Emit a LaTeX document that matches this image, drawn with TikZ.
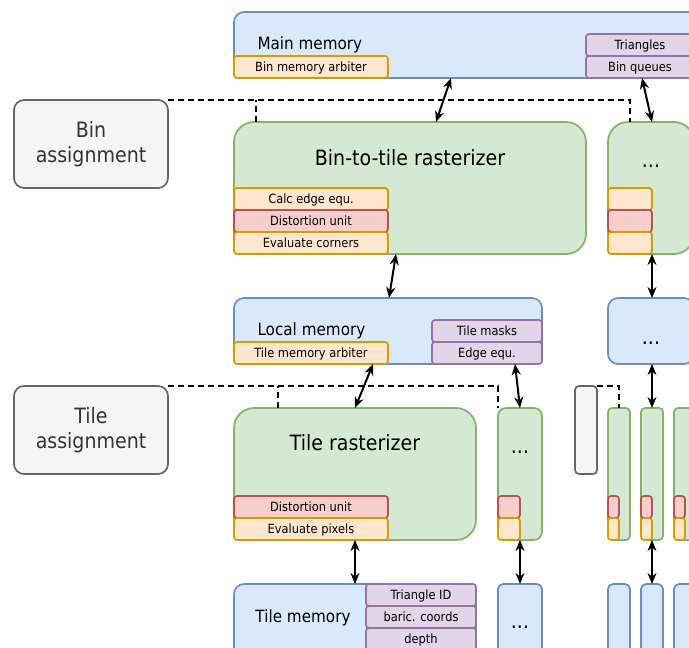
\documentclass[tikz,border=0pt]{standalone}
\usepackage{fontspec}
\setmainfont{DejaVu Sans}[FakeStretch=0.9]
\usetikzlibrary{arrows.meta}

\definecolor{memfill}{HTML}{DAE8FC}\definecolor{memline}{HTML}{6C8EBF}
\definecolor{rastfill}{HTML}{D5E8D4}\definecolor{rastline}{HTML}{82B366}
\definecolor{unitfill}{HTML}{FFE6CC}\definecolor{unitline}{HTML}{D79B00}
\definecolor{distfill}{HTML}{F8CECC}\definecolor{distline}{HTML}{B85450}
\definecolor{buffill}{HTML}{E1D5E7}\definecolor{bufline}{HTML}{9673A6}
\definecolor{ctlfill}{HTML}{F5F5F5}\definecolor{ctlline}{HTML}{666666}
\definecolor{ctltext}{HTML}{333333}

% block from corner (x1,y1) to corner (x2,y2), y growing downwards
\newcommand\blk[7]{\node[#2, minimum width={#5-#3}, minimum height={#6-#4}]
  (#1) at ({(#3+#5)/2},{(#4+#6)/2}) {#7};}

\tikzset{
  box/.style={draw, line width=1.7pt, inner sep=0pt, outer sep=0pt},
  % capital letters are centred on the node
  bigtxt/.style={font=\fontsize{21.1}{26}\selectfont, text height=15.4pt, text depth=0pt},
  midtxt/.style={font=\fontsize{16.9}{20}\selectfont, text height=12.3pt, text depth=0pt},
  smalltxt/.style={font=\fontsize{12.7}{14}\selectfont, text height=9.3pt, text depth=0pt},
  dots/.style={font=\fontsize{21.1}{26}\selectfont, anchor=base, inner sep=0pt},
  mem/.style={box, fill=memfill, draw=memline, rounded corners=10pt},
  memthin/.style={box, fill=memfill, draw=memline, rounded corners=5pt},
  rast/.style={box, fill=rastfill, draw=rastline, rounded corners=20pt},
  rastmid/.style={box, fill=rastfill, draw=rastline, rounded corners=8pt},
  rastthin/.style={box, fill=rastfill, draw=rastline, rounded corners=4pt},
  unit/.style={box, fill=unitfill, draw=unitline, rounded corners=3pt, smalltxt},
  dist/.style={box, fill=distfill, draw=distline, rounded corners=3pt, smalltxt},
  buf/.style={box, fill=buffill, draw=bufline, rounded corners=3pt, smalltxt},
  ctl/.style={box, fill=ctlfill, draw=ctlline, rounded corners=10pt,
    font=\fontsize{21.1}{25.6}\selectfont, text=ctltext, align=center},
  ctlthin/.style={box, fill=ctlfill, draw=ctlline, rounded corners=4pt},
  link/.style={line width=2pt, {Stealth[length=11pt,width=9pt]}-{Stealth[length=11pt,width=9pt]}},
  assign/.style={line width=2pt, dash pattern=on 6pt off 4pt},
}

\begin{document}
\begin{tikzpicture}[x=1pt,y=-1pt]
\clip (0,0) rectangle (689,648);

% ---- bin level ----
\blk{main}{mem}{234}{12}{700}{78}{}
\node[midtxt, anchor=west] (mainlbl) at (254,43) {Main memory};
\blk{binarb}{unit}{234}{56}{388}{78}{Bin memory arbiter}
\blk{tri}{buf}{586}{34}{694}{56}{Triangles}
\blk{binq}{buf}{586}{56}{694}{78}{Bin queues}

\blk{binassign}{ctl}{14}{100}{168}{188}{Bin\\assignment}

\blk{btt}{rast}{234}{122}{586}{254}{}
\node[bigtxt] (bttlbl) at (410,157.3) {Bin-to-tile rasterizer};
\blk{calc}{unit}{234}{188}{388}{210}{Calc edge equ.}
\blk{distA}{dist}{234}{210}{388}{232}{Distortion unit}
\blk{evc}{unit}{234}{232}{388}{254}{Evaluate corners}

\blk{bttB}{rast}{608}{122}{694}{254}{}
\node[dots] (bttBlbl) at (651,167) {...};
\blk{calcB}{unit}{608}{188}{652}{210}{}
\blk{distB}{dist}{608}{210}{652}{232}{}
\blk{evcB}{unit}{608}{232}{652}{254}{}

% ---- tile level ----
\blk{local}{mem}{234}{298}{542}{364}{}
\node[midtxt, anchor=west] (locallbl) at (254,329.3) {Local memory};
\blk{tilearb}{unit}{234}{342}{388}{364}{Tile memory arbiter}
\blk{tmask}{buf}{432}{320}{542}{342}{Tile masks}
\blk{edge}{buf}{432}{342}{542}{364}{Edge equ.}

\blk{localB}{mem}{608}{298}{694}{364}{}
\node[dots] (localBlbl) at (651,344) {...};

\blk{tileassign}{ctl}{14}{386}{168}{474}{Tile\\assignment}

\blk{trast}{rast}{234}{408}{476}{540}{}
\node[bigtxt] (trastlbl) at (355,443) {Tile rasterizer};
\blk{distC}{dist}{234}{496}{388}{518}{Distortion unit}
\blk{evp}{unit}{234}{518}{388}{540}{Evaluate pixels}

\blk{trastB}{rastmid}{498}{408}{542}{540}{}
\node[dots] (trastBlbl) at (520,453) {...};
\blk{distD}{dist}{498}{496}{520}{518}{}
\blk{evpD}{unit}{498}{518}{520}{540}{}

% ---- pixel memories ----
\blk{tmem}{mem}{234}{584}{476}{662}{}
\node[midtxt] (tmemlbl) at (303,616.7) {Tile memory};
\blk{triid}{buf}{366}{584}{476}{606}{Triangle ID}
\blk{baric}{buf}{366}{606}{476}{628}{baric. coords}
\blk{depth}{buf}{366}{628}{476}{650}{depth}

\blk{tmemB}{memthin}{498}{584}{542}{662}{}
\node[dots] (tmemBlbl) at (520,628) {...};

% ---- narrow tile units on the right ----
\blk{gsmall}{ctlthin}{575}{386}{597}{474}{}
\blk{ga}{rastthin}{608}{408}{630}{540}{}
\blk{gb}{rastthin}{641}{408}{663}{540}{}
\blk{gc}{rastthin}{674}{408}{696}{540}{}
\blk{gaR}{dist}{608}{496}{619}{518}{}
\blk{gaO}{unit}{608}{518}{619}{540}{}
\blk{gbR}{dist}{641}{496}{652}{518}{}
\blk{gbO}{unit}{641}{518}{652}{540}{}
\blk{gcR}{dist}{674}{496}{685}{518}{}
\blk{gcO}{unit}{674}{518}{685}{540}{}
\blk{ma}{memthin}{608}{584}{630}{662}{}
\blk{mb}{memthin}{641}{584}{663}{662}{}
\blk{mc}{memthin}{674}{584}{696}{662}{}

% ---- assignment lines ----
\draw[assign] (binassign.north east) -| ([xshift=22pt]bttB.north west);
\draw[assign] ([xshift=22pt]btt.north west) -- ([xshift=22pt]btt.north west |- binassign.north east);
\draw[assign] (tileassign.north east) -| (trastB.north west);
\draw[assign] ([xshift=44pt]trast.north west) -- ([xshift=44pt]trast.north west |- tileassign.north east);
\draw[assign] (gsmall.north east) -| ([xshift=11pt]ga.north west);

% ---- data paths ----
\draw[link] ([xshift=217pt]main.south west) -- ([xshift=202pt]btt.north west);
\draw[link] ([xshift=56pt]binq.south west) -- ([xshift=44pt]bttB.north west);
\draw[link] ([xshift=162pt]btt.south west) -- ([xshift=155pt]local.north west);
\draw[link] (evcB.south east) -- ([xshift=44pt]localB.north west);
\draw[link] ([xshift=139pt]local.south west) -- (trast.north);
\draw[link] ([xshift=83pt]edge.south west) -- (trastB.north);
\draw[link] ([xshift=44pt]localB.south west) -- (gb.north);
\draw[link] (trast.south) -- (tmem.north);
\draw[link] (trastB.south) -- (tmemB.north);
\draw[link] (gb.south) -- (mb.north);
\end{tikzpicture}
\end{document}
